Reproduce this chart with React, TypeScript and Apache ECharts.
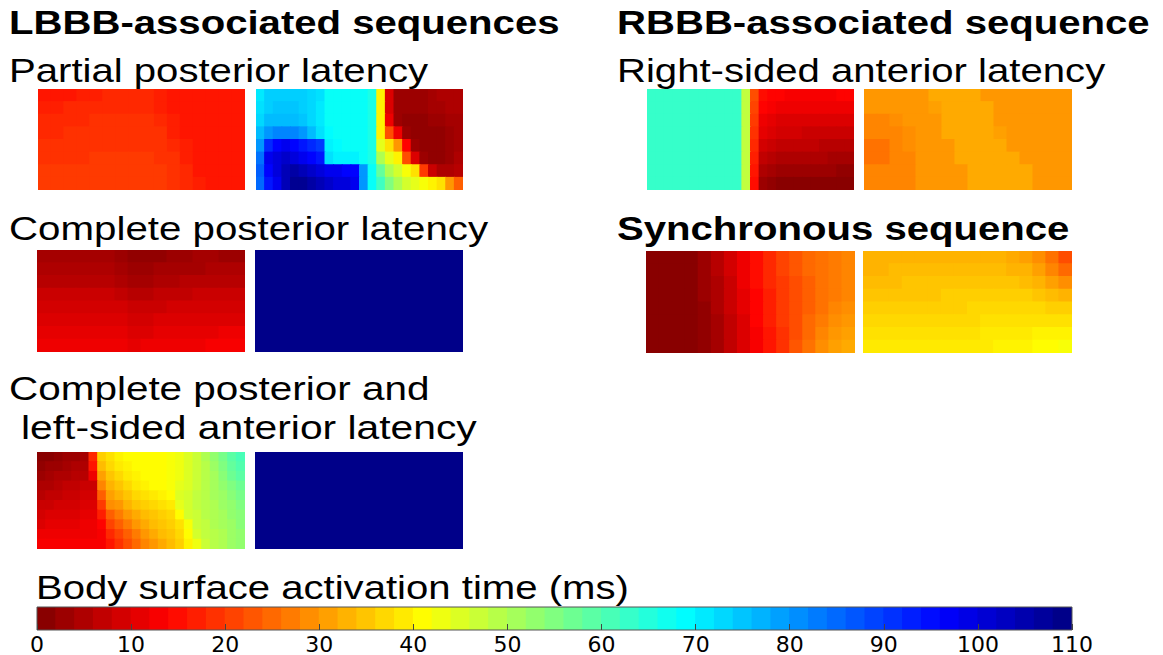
import React, { useEffect, useRef } from "react";
import * as echarts from "echarts";

// Body surface activation time maps (ms); rows run top -> bottom, columns left -> right.
const partialPosteriorLeft = [
  [16, 16, 16, 17, 17, 18, 18, 18, 18, 17, 16, 16, 16, 16, 16, 16],
  [17, 17, 18, 18, 18, 18, 18, 18, 18, 17, 16, 16, 16, 16, 16, 16],
  [18, 18, 18, 18, 19, 19, 19, 19, 19, 18, 17, 16, 16, 16, 16, 16],
  [18, 18, 19, 19, 19, 19, 19, 19, 19, 19, 17, 16, 16, 16, 16, 16],
  [19, 19, 19, 19, 19, 19, 19, 19, 19, 19, 18, 17, 16, 16, 16, 16],
  [19, 19, 19, 19, 20, 20, 20, 20, 20, 19, 19, 17, 16, 16, 16, 16],
  [20, 20, 20, 20, 20, 20, 20, 20, 20, 20, 19, 18, 16, 16, 16, 16],
  [20, 20, 20, 20, 20, 20, 20, 20, 20, 20, 19, 18, 17, 16, 16, 16],
];

const partialPosteriorRight = [
  [71, 74, 74, 74, 74, 74, 73, 72, 68, 68, 68, 68, 68, 66, 40, 10, 3, 3, 3, 3, 4, 5, 5, 5],
  [72, 74, 75, 75, 75, 74, 73, 71, 68, 68, 68, 68, 68, 66, 40, 10, 3, 3, 3, 3, 4, 4, 5, 5],
  [73, 76, 76, 76, 76, 75, 73, 71, 68, 68, 68, 68, 68, 66, 40, 12, 3, 2, 2, 2, 3, 3, 4, 4],
  [76, 80, 82, 82, 82, 80, 76, 72, 69, 68, 68, 68, 68, 66, 40, 22, 12, 3, 2, 2, 2, 2, 3, 4],
  [80, 92, 96, 98, 96, 94, 92, 90, 70, 69, 68, 68, 68, 66, 44, 38, 30, 14, 3, 2, 2, 2, 3, 4],
  [84, 98, 100, 102, 100, 98, 96, 94, 72, 70, 70, 70, 68, 66, 50, 44, 40, 22, 10, 3, 2, 2, 3, 5],
  [86, 96, 100, 104, 106, 104, 102, 100, 98, 98, 96, 96, 80, 68, 58, 50, 46, 42, 38, 20, 8, 5, 5, 6],
  [85, 94, 98, 104, 108, 108, 106, 104, 102, 100, 100, 98, 80, 68, 62, 55, 50, 46, 44, 42, 40, 38, 30, 24],
];

const rightSidedLeft = [
  [63, 63, 63, 63, 63, 63, 63, 63, 63, 63, 63, 48, 22, 15, 14, 14, 13, 13, 13, 13, 13, 13, 14, 14],
  [63, 63, 63, 63, 63, 63, 63, 63, 63, 63, 63, 48, 21, 14, 13, 12, 12, 12, 12, 12, 12, 12, 12, 12],
  [63, 63, 63, 63, 63, 63, 63, 63, 63, 63, 63, 48, 20, 12, 11, 10, 10, 10, 10, 10, 10, 10, 10, 10],
  [63, 63, 63, 63, 63, 63, 63, 63, 63, 63, 63, 48, 19, 11, 10, 9, 9, 9, 8, 8, 8, 8, 8, 8],
  [63, 63, 63, 63, 63, 63, 63, 63, 63, 63, 63, 48, 18, 9, 8, 7, 7, 7, 7, 7, 6, 6, 6, 6],
  [63, 63, 63, 63, 63, 63, 63, 63, 63, 63, 63, 48, 17, 7, 6, 5, 5, 5, 5, 5, 5, 4, 4, 4],
  [63, 63, 63, 63, 63, 63, 63, 63, 63, 63, 63, 48, 16, 5, 4, 3, 3, 3, 3, 3, 3, 3, 2, 2],
  [63, 63, 63, 63, 63, 63, 63, 63, 63, 63, 63, 48, 15, 3, 2, 1, 1, 1, 1, 1, 1, 1, 1, 1],
];

const rightSidedRight = [
  [30, 30, 30, 30, 30, 32, 32, 32, 32, 30, 30, 30, 30, 30, 30, 30],
  [30, 30, 30, 30, 30, 31, 32, 32, 32, 32, 30, 30, 30, 30, 30, 30],
  [28, 28, 29, 30, 30, 30, 32, 32, 32, 32, 30, 30, 30, 30, 30, 30],
  [28, 28, 28, 29, 30, 30, 32, 32, 32, 32, 31, 30, 30, 30, 30, 30],
  [26, 26, 28, 29, 30, 30, 30, 32, 32, 32, 32, 30, 30, 30, 30, 30],
  [26, 26, 28, 28, 30, 30, 30, 32, 32, 32, 32, 32, 30, 30, 30, 30],
  [28, 28, 28, 28, 30, 30, 30, 30, 32, 32, 32, 32, 32, 30, 30, 30],
  [28, 28, 28, 28, 30, 30, 30, 30, 32, 32, 32, 32, 32, 30, 30, 30],
];

const completePosteriorLeft = [
  [4, 4, 4, 4, 4, 4, 3, 2, 2, 2, 3, 3, 4, 4, 3, 3],
  [5, 5, 5, 5, 5, 5, 4, 3, 3, 4, 4, 4, 4, 5, 5, 5],
  [6, 6, 6, 6, 6, 6, 5, 4, 4, 5, 5, 6, 6, 6, 6, 6],
  [8, 8, 8, 8, 8, 8, 7, 6, 6, 7, 7, 7, 8, 8, 8, 8],
  [9, 9, 9, 9, 9, 9, 9, 8, 8, 8, 9, 9, 9, 9, 9, 9],
  [10, 10, 10, 10, 10, 10, 10, 9, 9, 10, 10, 10, 10, 10, 10, 10],
  [11, 11, 11, 11, 11, 11, 11, 10, 10, 11, 11, 11, 11, 11, 12, 12],
  [12, 12, 12, 12, 12, 12, 12, 11, 12, 12, 12, 12, 12, 13, 13, 13],
];

const completePosteriorRight = [[109]];

const synchronousLeft = [
  [1, 1, 1, 1, 3, 6, 9, 12, 15, 18, 21, 23, 25, 26, 27, 28],
  [1, 1, 1, 1, 3, 6, 9, 12, 15, 18, 21, 23, 25, 26, 27, 28],
  [1, 1, 1, 1, 3, 5, 8, 12, 15, 18, 20, 22, 24, 26, 27, 28],
  [1, 1, 1, 1, 3, 5, 8, 11, 14, 17, 20, 22, 24, 26, 27, 28],
  [1, 1, 1, 1, 2, 5, 8, 11, 14, 17, 20, 22, 24, 26, 28, 29],
  [1, 1, 1, 1, 2, 4, 7, 10, 14, 17, 20, 22, 25, 27, 29, 30],
  [1, 1, 1, 1, 2, 4, 7, 10, 13, 16, 19, 22, 25, 28, 30, 31],
  [1, 1, 1, 1, 2, 4, 7, 10, 13, 16, 19, 23, 26, 29, 31, 32],
];

const synchronousRight = [
  [33, 33, 33, 33, 33, 33, 33, 33, 33, 33, 33, 32, 31, 29, 26, 22],
  [33, 33, 34, 34, 34, 34, 34, 34, 34, 34, 34, 33, 33, 31, 28, 25],
  [34, 34, 34, 35, 35, 35, 35, 35, 35, 35, 35, 35, 34, 33, 31, 29],
  [35, 35, 35, 35, 35, 35, 36, 36, 36, 36, 36, 36, 36, 35, 34, 33],
  [36, 36, 36, 36, 36, 36, 36, 36, 37, 37, 37, 37, 37, 37, 36, 36],
  [37, 37, 37, 37, 37, 37, 37, 37, 37, 38, 38, 38, 38, 38, 38, 38],
  [38, 38, 38, 38, 38, 38, 38, 38, 38, 39, 39, 39, 39, 40, 40, 40],
  [39, 39, 39, 39, 39, 39, 39, 39, 39, 39, 40, 40, 40, 41, 41, 42],
];

const postAndLeftAntLeft = [
  [1, 1, 2, 3, 3, 4, 18, 36, 38, 40, 41, 41, 41, 41, 41, 42, 43, 45, 47, 50, 53, 56, 59, 61],
  [2, 3, 3, 4, 5, 5, 16, 34, 37, 39, 40, 41, 41, 41, 41, 42, 43, 45, 47, 49, 52, 55, 58, 60],
  [3, 4, 5, 5, 6, 6, 12, 31, 35, 37, 39, 40, 41, 41, 41, 42, 43, 45, 47, 49, 51, 54, 57, 59],
  [5, 5, 6, 7, 7, 8, 8, 28, 33, 35, 37, 39, 40, 41, 41, 42, 44, 45, 47, 49, 51, 53, 55, 57],
  [6, 7, 7, 8, 8, 9, 9, 24, 31, 33, 35, 37, 38, 39, 40, 41, 45, 46, 48, 49, 51, 52, 54, 56],
  [8, 8, 9, 9, 9, 10, 10, 20, 29, 30, 33, 35, 36, 37, 38, 39, 44, 46, 48, 49, 50, 52, 53, 55],
  [9, 10, 10, 10, 10, 11, 11, 17, 24, 27, 30, 32, 34, 35, 36, 37, 41, 46, 47, 49, 50, 51, 53, 54],
  [10, 11, 11, 11, 11, 12, 12, 14, 21, 24, 27, 30, 32, 34, 35, 36, 38, 42, 47, 48, 50, 51, 52, 54],
  [12, 12, 12, 12, 12, 12, 12, 13, 18, 21, 24, 27, 30, 32, 34, 35, 37, 41, 46, 48, 49, 50, 52, 53],
  [13, 13, 13, 13, 13, 13, 13, 13, 16, 19, 22, 25, 28, 30, 32, 34, 36, 40, 43, 47, 49, 50, 52, 53],
];

const postAndLeftAntRight = [[109]];

// Colour-bar bands (2 ms wide, band centres) and scale limits
const colorbarBands = [
  1, 3, 5, 7, 9, 11, 13, 15, 17, 19, 21, 23, 25, 27, 29, 31, 33, 35, 37, 39,
  41, 43, 45, 47, 49, 51, 53, 55, 57, 59, 61, 63, 65, 67, 69, 71, 73, 75, 77,
  79, 81, 83, 85, 87, 89, 91, 93, 95, 97, 99, 101, 103, 105, 107, 109,
];
const scaleMin = 0;
const scaleMax = 110;
const tickStep = 10;

// Reversed "jet" colour map: early activation dark red, late activation dark blue
const JET_REVERSED = [
  "#800000", "#ff0000", "#ff8000", "#ffff00", "#80ff80",
  "#00ffff", "#0080ff", "#0000ff", "#000080",
];

const panelLayout = [
  { data: partialPosteriorLeft, left: 38, top: 89, width: 207, height: 101 },
  { data: partialPosteriorRight, left: 256, top: 89, width: 207, height: 101 },
  { data: rightSidedLeft, left: 647, top: 89, width: 207, height: 101 },
  { data: rightSidedRight, left: 864, top: 89, width: 208, height: 101 },
  { data: completePosteriorLeft, left: 37, top: 250, width: 208, height: 102 },
  { data: completePosteriorRight, left: 255, top: 250, width: 208, height: 102 },
  { data: synchronousLeft, left: 646, top: 251, width: 209, height: 102 },
  { data: synchronousRight, left: 863, top: 251, width: 209, height: 102 },
  { data: postAndLeftAntLeft, left: 37, top: 452, width: 208, height: 97 },
  { data: postAndLeftAntRight, left: 255, top: 452, width: 208, height: 97 },
];

const headings = [
  { text: "LBBB-associated sequences", x: 9, y: 22, bold: true, sx: 1.18 },
  { text: "RBBB-associated sequence", x: 617, y: 22, bold: true, sx: 1.18 },
  { text: "Partial posterior latency", x: 9, y: 70, bold: false, sx: 1.18 },
  { text: "Right-sided anterior latency", x: 617, y: 70, bold: false, sx: 1.18 },
  { text: "Complete posterior latency", x: 9, y: 228, bold: false, sx: 1.185 },
  { text: "Synchronous sequence", x: 617, y: 228, bold: true, sx: 1.18 },
  { text: "Complete posterior and", x: 9, y: 388, bold: false, sx: 1.19 },
  { text: "left-sided anterior latency", x: 21, y: 427, bold: false, sx: 1.2 },
  { text: "Body surface activation time (ms)", x: 36, y: 587, bold: false, sx: 1.18 },
];

const FONT = "'Liberation Sans', Arial, Helvetica, sans-serif";

// Each cell is a rect slightly enlarged so neighbouring cells leave no seams.
function renderCell(_params: any, api: any) {
  const center = api.coord([api.value(0), api.value(1)]);
  const size = api.size([1, 1]);
  return {
    type: "rect",
    shape: {
      x: center[0] - size[0] / 2 - 0.5,
      y: center[1] - size[1] / 2 - 0.5,
      width: size[0] + 1,
      height: size[1] + 1,
    },
    style: { fill: api.visual("color") },
  };
}

function buildOption() {
  const grid: any[] = [];
  const xAxis: any[] = [];
  const yAxis: any[] = [];
  const series: any[] = [];

  panelLayout.forEach((p, i) => {
    const rows = p.data.length;
    const cols = p.data[0].length;
    grid.push({ left: p.left, top: p.top, width: p.width, height: p.height, show: false });
    xAxis.push({
      type: "category", gridIndex: i, show: false,
      data: Array.from({ length: cols }, (_, k) => String(k)),
    });
    yAxis.push({
      type: "category", gridIndex: i, show: false, inverse: true,
      data: Array.from({ length: rows }, (_, k) => String(k)),
    });
    const cells: number[][] = [];
    p.data.forEach((row, r) => row.forEach((v, c) => cells.push([c, r, v])));
    series.push({
      type: "custom", xAxisIndex: i, yAxisIndex: i, data: cells, clip: true,
      encode: { x: 0, y: 1 }, renderItem: renderCell, silent: true,
    });
  });

  // Colour bar
  const cb = panelLayout.length;
  grid.push({
    left: 37, top: 607, width: 1035, height: 26, show: true, z: 10,
    backgroundColor: "transparent", borderColor: "#555", borderWidth: 1,
  });
  xAxis.push({
    type: "category", gridIndex: cb, show: false,
    data: colorbarBands.map((v) => String(v)),
  });
  xAxis.push({
    type: "value", gridIndex: cb, position: "bottom", z: 11,
    min: scaleMin, max: scaleMax, interval: tickStep,
    axisLine: { show: false },
    axisTick: { show: true, inside: true, length: 6, lineStyle: { color: "#444", width: 1 } },
    axisLabel: { fontSize: 22, color: "#000", fontFamily: "'DejaVu Sans', sans-serif", margin: 3 },
    splitLine: { show: false },
  });
  yAxis.push({ type: "category", gridIndex: cb, show: false, data: ["0"] });
  series.push({
    type: "custom", xAxisIndex: cb, yAxisIndex: cb, clip: true, silent: true,
    encode: { x: 0, y: 1 }, renderItem: renderCell,
    data: colorbarBands.map((v, i) => [i, 0, v]),
  });

  const graphic = headings.map((h) => ({
    type: "text", x: h.x, y: h.y, scaleX: h.sx, silent: true,
    style: {
      text: h.text, fill: "#000", fontSize: 34, fontFamily: FONT,
      fontWeight: h.bold ? "bold" : "normal", align: "left", verticalAlign: "middle",
    },
  }));

  return {
    animation: false,
    backgroundColor: "#fff",
    grid, xAxis, yAxis, series, graphic,
    visualMap: {
      type: "continuous", show: false, min: scaleMin, max: scaleMax, dimension: 2,
      inRange: { color: JET_REVERSED },
    },
  };
}

export default function App() {
  const ref = useRef<HTMLDivElement>(null);
  useEffect(() => {
    if (!ref.current) return;
    const chart = echarts.init(ref.current, null, { renderer: "svg" });
    chart.setOption(buildOption());
    return () => chart.dispose();
  }, []);
  return (
    <div
      ref={ref}
      style={{ position: "fixed", left: 0, top: 0, width: 1163, height: 655, background: "#fff" }}
    />
  );
}
